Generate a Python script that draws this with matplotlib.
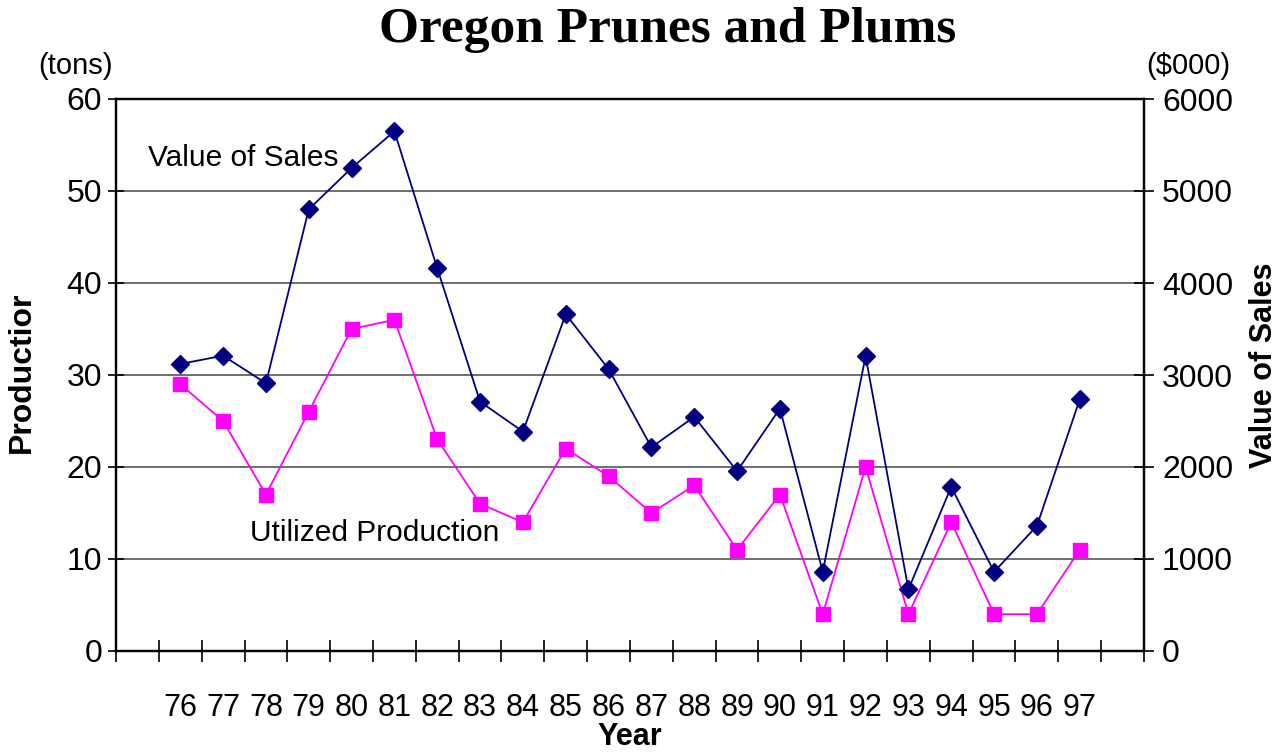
import matplotlib.pyplot as plt
import numpy as np

# data
years = ['76', '77', '78', '79', '80', '81', '82', '83', '84', '85', '86',
         '87', '88', '89', '90', '91', '92', '93', '94', '95', '96', '97']
utilized_production = [29, 25, 17, 26, 35, 36, 23, 16, 14, 22, 19,
                       15, 18, 11, 17, 4, 20, 4, 14, 4, 4, 11]
value_of_sales = [3120, 3210, 2910, 4800, 5250, 5650, 4160, 2710, 2385, 3660, 3065,
                  2215, 2545, 1955, 2635, 860, 3205, 670, 1785, 860, 1360, 2735]

plt.rcParams['font.family'] = ['Liberation Sans', 'DejaVu Sans']

fig = plt.figure(figsize=(12.84, 7.54), dpi=100)
ax = fig.add_axes([116 / 1284, 103 / 754, 1028 / 1284, 552 / 754])
ax2 = ax.twinx()

# category axis with one empty slot on each side
n_slots = len(years) + 2
x = np.arange(len(years)) + 1.5

ax.plot(x, utilized_production, color='#FF00FF', lw=1.3, marker='s', ms=10,
        markeredgecolor='#FF00FF', zorder=3)
ax2.plot(x, value_of_sales, color='#000080', lw=1.3, marker='D', ms=9.5,
         markeredgecolor='#000080', zorder=3)

ax.set_xlim(0, n_slots)
ax.set_ylim(0, 60)
ax2.set_ylim(0, 6000)
ax.set_yticks(range(0, 61, 10))
ax2.set_yticks(range(0, 6001, 1000))

ax.set_xticks(range(0, n_slots + 1))
ax.set_xticklabels([])
ax.set_xticks(x, minor=True)
ax.set_xticklabels(years, minor=True)
ax.tick_params(axis='x', which='major', direction='inout', length=16, width=1.2)
ax.tick_params(axis='x', which='minor', length=0, pad=30, labelsize=22)
ax.tick_params(axis='y', direction='inout', length=12, width=1.2, labelsize=23, pad=4)
ax2.tick_params(axis='y', direction='inout', length=14, width=1.2, labelsize=23, pad=6)

ax.yaxis.grid(True, color='#555555', lw=1.2)
ax.set_axisbelow(True)
for a in (ax, ax2):
    for s in a.spines.values():
        s.set_linewidth(1.6)
        s.set_color('black')

ax.text(0.75, 53.6, 'Value of Sales', fontsize=21.5, ha='left', va='center')
ax.text(3.13, 12.8, 'Utilized Production', fontsize=21.5, ha='left', va='center')

ax.set_ylabel('Productior', fontsize=23, fontweight='bold')
ax.yaxis.set_label_coords(-0.077, 0.505)
ax2.set_ylabel('Value of Sales', fontsize=22, fontweight='bold')
ax2.yaxis.set_label_coords(1.102, 0.518)
ax.set_xlabel('Year', fontsize=22, fontweight='bold')
ax.xaxis.set_label_coords(0.5, -0.128)

fig.text(75 / 1284, 1 - 66 / 754, '(tons)', fontsize=21, ha='center', va='center')
fig.text(1188 / 1284, 1 - 66 / 754, '($000)', fontsize=21, ha='center', va='center')
fig.text(668 / 1284, 1 - 30 / 754, 'Oregon Prunes and Plums', fontsize=37,
         fontweight='bold', family='Liberation Serif', ha='center', va='center')

fig.savefig('out.png', dpi=100)
